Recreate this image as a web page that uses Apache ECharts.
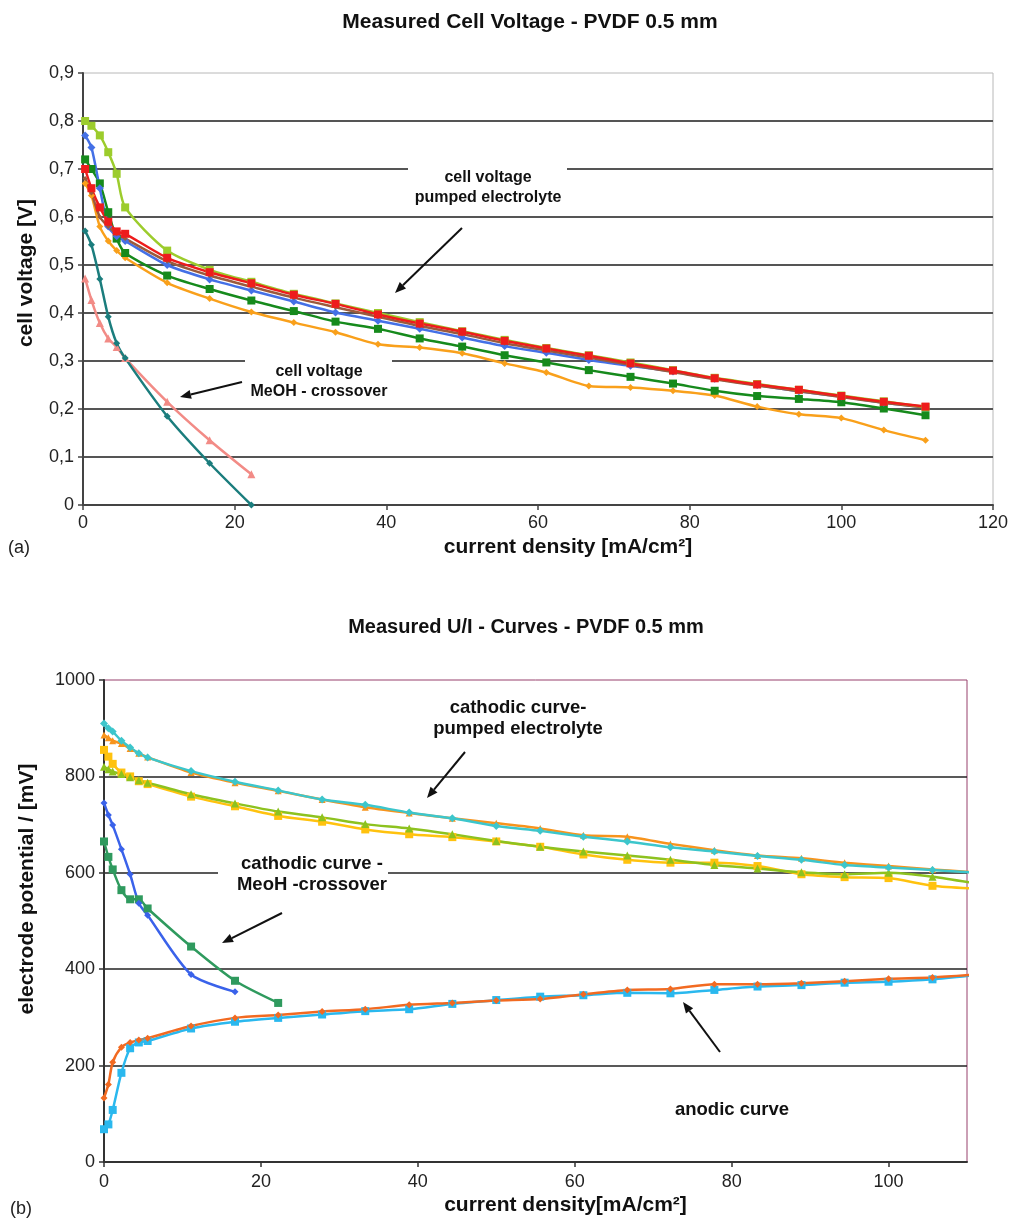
<!DOCTYPE html>
<html>
<head>
<meta charset="utf-8">
<script src="https://cdn.jsdelivr.net/npm/echarts@6/dist/echarts.min.js"></script>
<style>
	html, body { margin: 0; background: #fff; }
	#charts { width: 1012px; height: 1222px; }
</style>
</head>
<body>
<div id="charts"></div>
<script>
// (a) cell voltage, current density in mA/cm²
const xTop = [0.28, 1.11, 2.22, 3.33, 4.44, 5.56, 11.1, 16.7, 22.2, 27.8, 33.3, 38.9, 44.4, 50.0, 55.6, 61.1, 66.7, 72.2, 77.8, 83.3, 88.9, 94.4, 100.0, 105.6, 111.1];
const cvRed = [0.70, 0.66, 0.62, 0.59, 0.57, 0.565, 0.515, 0.485, 0.462, 0.438, 0.419, 0.397, 0.378, 0.361, 0.342, 0.326, 0.311, 0.295, 0.280, 0.264, 0.251, 0.240, 0.227, 0.215, 0.205];
const cvBlue = [0.77, 0.745, 0.66, 0.58, 0.56, 0.55, 0.50, 0.47, 0.447, 0.424, 0.401, 0.384, 0.367, 0.349, 0.331, 0.317, 0.302, 0.290, 0.278, 0.263, 0.250, 0.237, 0.226, 0.213, 0.204];
const cvDarkGreen = [0.72, 0.70, 0.67, 0.61, 0.555, 0.525, 0.478, 0.45, 0.426, 0.404, 0.382, 0.367, 0.347, 0.330, 0.312, 0.297, 0.281, 0.267, 0.253, 0.238, 0.227, 0.221, 0.214, 0.201, 0.187];
const cvOrange = [0.67, 0.645, 0.58, 0.55, 0.53, 0.515, 0.463, 0.43, 0.402, 0.380, 0.360, 0.335, 0.328, 0.316, 0.295, 0.276, 0.248, 0.245, 0.238, 0.228, 0.205, 0.189, 0.181, 0.156, 0.135];
const cvLightGreen = [0.80, 0.79, 0.77, 0.735, 0.69, 0.62, 0.53, 0.49, 0.465, 0.44, 0.42, 0.40, 0.381, 0.362, 0.344, 0.327, 0.312, 0.297, 0.281, 0.265, 0.252, 0.240, 0.228, 0.216, 0.204];
const cvBrown = [0.68, 0.65, 0.60, 0.58, 0.565, 0.555, 0.508, 0.478, 0.455, 0.432, 0.412, 0.392, 0.373, 0.356, 0.337, 0.322, 0.307, 0.292, 0.277, 0.262, 0.249, 0.237, 0.225, 0.213, 0.203];
const cvTeal = [0.571, 0.542, 0.471, 0.392, 0.337, 0.306, 0.185, 0.087, 0.0];
const cvPink = [0.472, 0.427, 0.379, 0.347, 0.329, 0.306, 0.215, 0.135, 0.064];

// (b) electrode potentials in mV
const xBottom = [0, 0.56, 1.11, 2.22, 3.33, 4.44, 5.56, 11.1, 16.7, 22.2, 27.8, 33.3, 38.9, 44.4, 50.0, 55.6, 61.1, 66.7, 72.2, 77.8, 83.3, 88.9, 94.4, 100.0, 105.6, 111.1];
const cathCyan = [910, 900, 893, 874, 860, 848, 839, 811, 789, 771, 752, 741, 725, 713, 697, 687, 675, 665, 653, 644, 635, 627, 616, 611, 606, 600];
const cathOrange = [886, 880, 874, 868, 858, 848, 840, 808, 787, 770, 752, 736, 724, 713, 703, 692, 678, 675, 660, 647, 636, 630, 621, 614, 607, 601];
const cathYellow = [855, 841, 826, 808, 800, 790, 784, 758, 738, 718, 706, 690, 680, 674, 665, 654, 638, 627, 621, 621, 614, 597, 591, 589, 573, 567];
const cathYellowGreen = [820, 815, 810, 805, 798, 792, 787, 763, 744, 727, 715, 701, 692, 680, 666, 654, 644, 636, 627, 616, 609, 601, 597, 600, 592, 578];
const crossBlue = [745, 720, 699, 649, 597, 537, 512, 389, 353];
const crossGreen = [665, 633, 607, 564, 545, 545, 526, 447, 376, 330];
const anodOrange = [133, 161, 207, 238, 248, 253, 257, 282, 299, 305, 312, 317, 326, 330, 335, 338, 348, 357, 359, 369, 369, 371, 375, 380, 383, 389];
const anodCyan = [68, 78, 108, 185, 236, 248, 251, 277, 291, 299, 306, 313, 317, 328, 336, 343, 346, 351, 350, 357, 364, 367, 372, 374, 379, 388];

const FONT = '"Liberation Sans", Arial, Helvetica, sans-serif';

function curve(name, idx, xs, ys, color, symbol, size) {
	return {
		name: name,
		type: 'line',
		xAxisIndex: idx,
		yAxisIndex: idx,
		data: ys.map((y, i) => [xs[i], y]),
		smooth: 0.25,
		symbol: symbol,
		symbolSize: size,
		showSymbol: true,
		lineStyle: { color: color, width: 2.5 },
		itemStyle: { color: color },
		animation: false
	};
}

// arrow from tail (x1, y1) to tip (x2, y2)
function arrow(x1, y1, x2, y2) {
	const a = Math.atan2(y2 - y1, x2 - x1);
	const len = 11, w = 4.5;
	const bx = x2 - len * Math.cos(a), by = y2 - len * Math.sin(a);
	return [
		{ type: 'line', z: 50, shape: { x1: x1, y1: y1, x2: bx, y2: by }, style: { stroke: '#111', lineWidth: 2 } },
		{ type: 'polygon', z: 50, shape: { points: [[x2, y2], [bx + w * Math.sin(a), by - w * Math.cos(a)], [bx - w * Math.sin(a), by + w * Math.cos(a)]] }, style: { fill: '#111' } }
	];
}

function note(text, x, y, size, lh, box) {
	const items = [];
	if (box) {
		items.push({ type: 'rect', z: 5, shape: { x: box[0], y: box[1], width: box[2], height: box[3] }, style: { fill: '#fff' } });
	}
	items.push({
		type: 'text', z: 60, x: x, y: y,
		style: { text: text, font: 'bold ' + size + 'px ' + FONT, fill: '#111', textAlign: 'center', textVerticalAlign: 'middle', lineHeight: lh }
	});
	return items;
}

const axisText = { color: '#222', fontSize: 18, fontFamily: FONT };
const titleText = { fontSize: 21, fontWeight: 'bold', color: '#111', fontFamily: FONT };

const myChart = echarts.init(document.getElementById('charts'));

const option = {
	animation: false,
	backgroundColor: '#fff',
	title: [
		{ text: 'Measured Cell Voltage - PVDF 0.5 mm', left: 530, top: 12, padding: 0, textAlign: 'center', textStyle: titleText },
		{ text: 'Measured U/I - Curves - PVDF 0.5 mm', left: 526, top: 617, padding: 0, textAlign: 'center',
			textStyle: Object.assign({}, titleText, { fontSize: 20 }) }
	],
	grid: [
		{ left: 83, top: 73, right: 19, height: 432, show: true, borderColor: '#b8b8b8', borderWidth: 1 },
		{ left: 104, top: 680, right: 45, height: 482, show: true, borderColor: '#97406c', borderWidth: 1 }
	],
	xAxis: [
		{
			gridIndex: 0, type: 'value', min: 0, max: 120, interval: 20,
			name: 'current density [mA/cm²]', nameLocation: 'middle', nameGap: 32,
			nameTextStyle: Object.assign({}, titleText, { padding: [0, 0, 0, 60] }),
			axisLine: { lineStyle: { color: '#444', width: 2 } },
			axisTick: { length: 5, lineStyle: { color: '#444', width: 1.5 } },
			axisLabel: Object.assign({ margin: 9 }, axisText),
			splitLine: { show: false }
		},
		{
			gridIndex: 1, type: 'value', min: 0, max: 110, interval: 20,
			name: 'current density[mA/cm²]', nameLocation: 'middle', nameGap: 33,
			nameTextStyle: Object.assign({}, titleText, { padding: [0, 0, 0, 60] }),
			axisLine: { lineStyle: { color: '#333', width: 2 } },
			axisTick: { length: 5, lineStyle: { color: '#333', width: 1.5 } },
			axisLabel: Object.assign({ margin: 11, showMaxLabel: false }, axisText),
			splitLine: { show: false }
		}
	],
	yAxis: [
		{
			gridIndex: 0, type: 'value', min: 0, max: 0.9, interval: 0.1,
			name: 'cell voltage [V]', nameLocation: 'middle', nameGap: 46,
			nameTextStyle: Object.assign({}, titleText, { padding: [0, 0, 0, 32] }),
			axisLine: { show: true, lineStyle: { color: '#444', width: 2 } },
			axisTick: { show: true, length: 5, lineStyle: { color: '#444', width: 1.5 } },
			axisLabel: Object.assign({ margin: 9, formatter: v => v === 0 ? '0' : v.toFixed(1).replace('.', ',') }, axisText),
			splitLine: { show: true, showMinLine: false, showMaxLine: false, lineStyle: { color: '#555', width: 2 } }
		},
		{
			gridIndex: 1, type: 'value', min: 0, max: 1000, interval: 200,
			name: 'electrode potential / [mV]', nameLocation: 'middle', nameGap: 66,
			nameTextStyle: Object.assign({}, titleText, { padding: [0, 0, 0, 64] }),
			axisLine: { show: true, lineStyle: { color: '#333', width: 2 } },
			axisTick: { show: true, length: 5, lineStyle: { color: '#333', width: 1.5 } },
			axisLabel: Object.assign({ margin: 9, formatter: v => String(v) }, axisText),
			splitLine: { show: true, showMinLine: false, showMaxLine: false, lineStyle: { color: '#222', width: 1.5 } }
		}
	],
	series: [
		curve('MeOH 2', 0, xTop, cvPink, '#f28b86', 'triangle', 8),
		curve('MeOH 1', 0, xTop, cvTeal, '#1b7d7d', 'diamond', 7),
		curve('pumped orange', 0, xTop, cvOrange, '#f9a01b', 'diamond', 7),
		curve('pumped dark green', 0, xTop, cvDarkGreen, '#168a1c', 'rect', 8),
		curve('pumped blue', 0, xTop, cvBlue, '#4470e6', 'diamond', 8),
		curve('pumped brown', 0, xTop, cvBrown, '#9c5a3c', 'diamond', 5),
		curve('pumped light green', 0, xTop, cvLightGreen, '#9ccc2c', 'rect', 8),
		curve('pumped red', 0, xTop, cvRed, '#ee1c1c', 'rect', 8),

		curve('cathodic yellow', 1, xBottom, cathYellow, '#ffc20e', 'rect', 8),
		curve('cathodic yellow-green', 1, xBottom, cathYellowGreen, '#8dc21f', 'triangle', 8),
		curve('cathodic orange', 1, xBottom, cathOrange, '#f7941d', 'triangle', 7),
		curve('cathodic cyan', 1, xBottom, cathCyan, '#3cc6cc', 'diamond', 8),
		curve('crossover green', 1, xBottom, crossGreen, '#2f9a5e', 'rect', 8),
		curve('crossover blue', 1, xBottom, crossBlue, '#3a62ea', 'diamond', 7),
		curve('anodic cyan', 1, xBottom, anodCyan, '#2ab8ee', 'rect', 8),
		curve('anodic orange', 1, xBottom, anodOrange, '#f26a21', 'diamond', 7)
	],
	graphic: [].concat(
		note('cell voltage\npumped electrolyte', 488, 188, 16, 20, [408, 160, 159, 52]),
		arrow(462, 228, 395, 293),
		note('cell voltage\nMeOH - crossover', 319, 382, 16, 20, [245, 354, 147, 48]),
		arrow(242, 382, 180, 397),
		note('cathodic curve-\npumped electrolyte', 518, 718, 18.5, 21),
		arrow(465, 752, 427, 798),
		note('cathodic curve -\nMeoH -crossover', 312, 874, 18.5, 21, [218, 850, 170, 48]),
		arrow(282, 913, 222, 943),
		note('anodic curve', 732, 1110, 18.5, 21),
		arrow(720, 1052, 683, 1002),
		[
			{ type: 'text', x: 8, y: 548, style: { text: '(a)', font: '18px ' + FONT, fill: '#222', textVerticalAlign: 'middle' } },
			{ type: 'text', x: 10, y: 1209, style: { text: '(b)', font: '18px ' + FONT, fill: '#222', textVerticalAlign: 'middle' } }
		]
	)
};

myChart.setOption(option);
</script>
</body>
</html>
